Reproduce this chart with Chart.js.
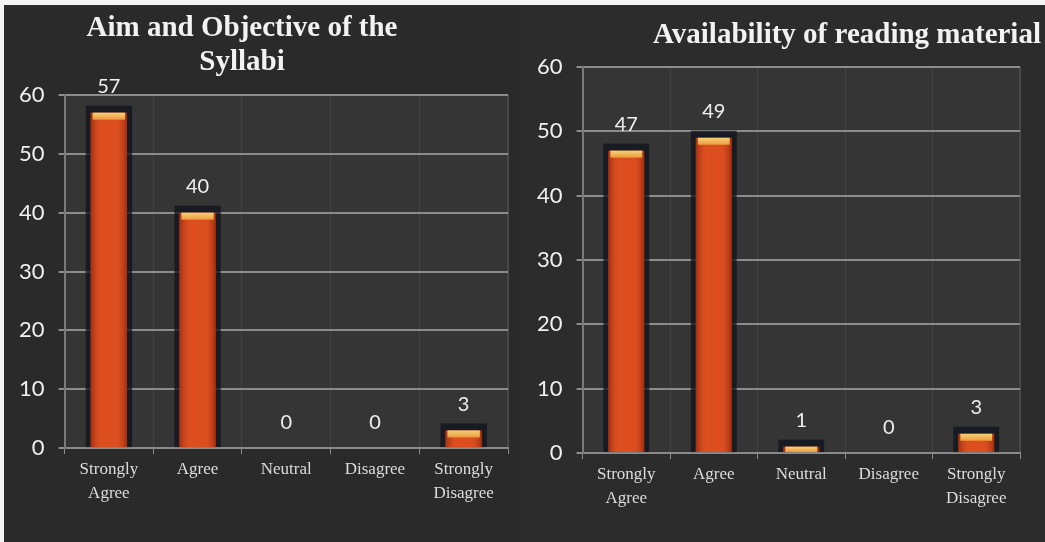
<!DOCTYPE html>
<html lang="en">
<head>
    <meta charset="UTF-8">
    <title>Survey Responses</title>
    <script src="https://cdn.jsdelivr.net/npm/chart.js"></script>
    <style>
        html, body { margin: 0; padding: 0; background: #f4f4f4; }
        #board {
            position: absolute; left: 4px; top: 5px;
            width: 1041px; height: 537px; background: #2a2a2a;
        }
        .panel { position: absolute; top: 0; height: 537px; }
        #left-panel { left: 0; width: 516px; }
        #right-panel { left: 516px; width: 525px; background: #2c2c2c; }
    </style>
</head>
<body>
    <div id="board">
        <div class="panel" id="left-panel"><canvas id="aim-chart"></canvas></div>
        <div class="panel" id="right-panel"><canvas id="reading-chart"></canvas></div>
    </div>

    <script>
        // Survey data
        const categories = [['Strongly', 'Agree'], 'Agree', 'Neutral', 'Disagree', ['Strongly', 'Disagree']];
        const aimValues = [57, 40, 0, 0, 3];
        const readingValues = [47, 49, 1, 0, 3];
        const yTicks = [0, 10, 20, 30, 40, 50, 60];
        const aimTitle = ['Aim and Objective of the', 'Syllabi'];
        const readingTitle = ['Availability of reading material'];

        // Panel title, drawn at a fixed spot above the plot
        const panelTitle = {
            id: 'panelTitle',
            afterDraw(chart, args, opts) {
                const ctx = chart.ctx;
                ctx.save();
                ctx.font = 'bold 29px "Liberation Serif", "Times New Roman", serif';
                ctx.fillStyle = '#f2f2f2';
                ctx.textAlign = 'center';
                ctx.textBaseline = 'middle';
                opts.lines.forEach((line, i) => ctx.fillText(line, opts.x, opts.y + i * opts.lineHeight));
                ctx.restore();
            }
        };

        // Dark plot backdrop, bar shadows, highlights, caps and value labels
        const barDecor = {
            id: 'barDecor',
            beforeDraw(chart) {
                const { ctx, chartArea: a } = chart;
                ctx.save();
                ctx.fillStyle = '#353535';
                ctx.fillRect(a.left, a.top, a.right - a.left, a.bottom - a.top);
                ctx.strokeStyle = '#555';
                ctx.lineWidth = 1;
                ctx.strokeRect(a.left, a.top, a.right - a.left, a.bottom - a.top);
                ctx.restore();
            },
            beforeDatasetsDraw(chart) {
                const ctx = chart.ctx;
                const values = chart.data.datasets[0].data;
                ctx.save();
                chart.getDatasetMeta(0).data.forEach((bar, i) => {
                    if (!values[i]) return;
                    const w = bar.width;
                    ctx.fillStyle = 'rgba(16,19,28,0.75)';
                    ctx.fillRect(bar.x - w / 2 - 5, bar.y - 7, w + 10, bar.base - bar.y + 7);
                });
                ctx.restore();
            },
            afterDatasetsDraw(chart) {
                const ctx = chart.ctx;
                const values = chart.data.datasets[0].data;
                ctx.save();
                chart.getDatasetMeta(0).data.forEach((bar, i) => {
                    const w = bar.width;
                    const left = bar.x - w / 2;
                    if (values[i]) {
                        const shade = ctx.createLinearGradient(left, 0, left + w, 0);
                        shade.addColorStop(0, 'rgba(120,25,5,0.55)');
                        shade.addColorStop(0.35, 'rgba(255,120,60,0.12)');
                        shade.addColorStop(0.65, 'rgba(255,120,60,0.08)');
                        shade.addColorStop(1, 'rgba(120,25,5,0.6)');
                        ctx.fillStyle = shade;
                        ctx.fillRect(left, bar.y, w, bar.base - bar.y);

                        const capH = Math.min(7, bar.base - bar.y);
                        const cap = ctx.createLinearGradient(0, bar.y, 0, bar.y + capH);
                        cap.addColorStop(0, '#f6d27a');
                        cap.addColorStop(1, '#ec9a3c');
                        ctx.fillStyle = cap;
                        ctx.fillRect(left + 2, bar.y, w - 4, capH);
                    }
                    ctx.font = '20px Lato, "Open Sans", sans-serif';
                    ctx.fillStyle = '#efefef';
                    ctx.textAlign = 'center';
                    ctx.textBaseline = 'middle';
                    ctx.fillText(values[i], bar.x, bar.y - 26);
                });
                ctx.restore();
            }
        };

        function makeChart(canvasId, values, title, padding) {
            return new Chart(document.getElementById(canvasId), {
                type: 'bar',
                data: {
                    labels: categories,
                    datasets: [{
                        data: values,
                        backgroundColor: '#d9491c',
                        borderWidth: 0,
                        barPercentage: 0.41,
                        categoryPercentage: 1
                    }]
                },
                options: {
                    responsive: true,
                    maintainAspectRatio: false,
                    animation: false,
                    layout: { padding: padding },
                    plugins: {
                        legend: { display: false },
                        title: { display: false },
                        tooltip: { enabled: false },
                        panelTitle: title
                    },
                    scales: {
                        x: {
                            offset: true,
                            grid: {
                                offset: true,
                                color: 'rgba(255,255,255,0.07)',
                                tickColor: '#8a8a8a',
                                tickLength: 6,
                                lineWidth: 1
                            },
                            border: { color: '#8a8a8a', width: 2 },
                            ticks: {
                                color: '#dcdcdc',
                                padding: 4,
                                maxRotation: 0,
                                font: { family: '"Liberation Serif", "Times New Roman", serif', size: 17, lineHeight: 1.38 }
                            }
                        },
                        y: {
                            min: 0,
                            max: 60,
                            afterBuildTicks: axis => { axis.ticks = yTicks.map(v => ({ value: v })); },
                            grid: { color: '#8c8c8c', lineWidth: 2, tickLength: 6, tickColor: '#8c8c8c' },
                            border: { color: '#7a7a7a', width: 2 },
                            ticks: {
                                color: '#f0f0f0',
                                padding: 14,
                                font: { family: 'Lato, "Open Sans", sans-serif', size: 22 }
                            }
                        }
                    }
                },
                plugins: [barDecor, panelTitle]
            });
        }

        makeChart('aim-chart', aimValues,
            { lines: aimTitle, x: 238, y: 24, lineHeight: 34 },
            { top: 90, left: 1, right: 12, bottom: 33 });
        makeChart('reading-chart', readingValues,
            { lines: readingTitle, x: 327, y: 31, lineHeight: 34 },
            { top: 62, left: 3, right: 25, bottom: 28 });
    </script>
</body>
</html>
